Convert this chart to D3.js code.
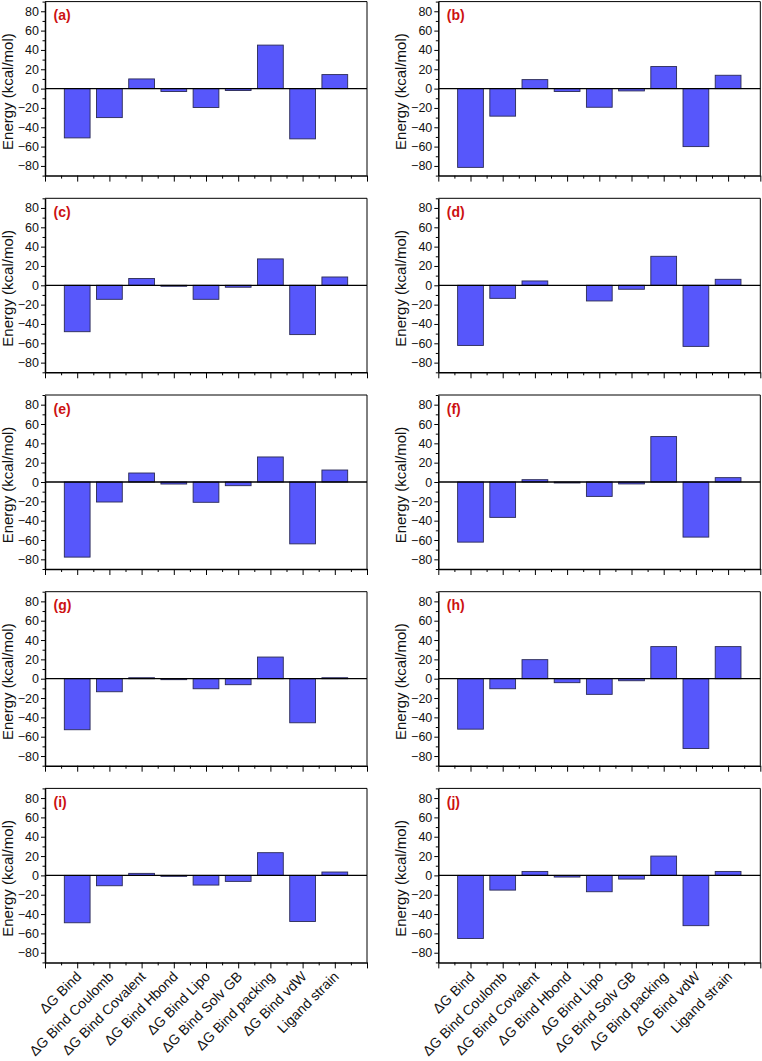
<!DOCTYPE html>
<html><head><meta charset="utf-8">
<script src="https://cdn.jsdelivr.net/npm/d3@7"></script>
<style>
html,body{margin:0;padding:0;background:#fff;}
svg{display:block;font-family:"Liberation Sans",Arial,sans-serif;}
</style></head>
<body>
<svg id="chart" width="762" height="1061"></svg>
<script>
const categories = ["ΔG Bind","ΔG Bind Coulomb","ΔG Bind Covalent","ΔG Bind Hbond","ΔG Bind Lipo","ΔG Bind Solv GB","ΔG Bind packing","ΔG Bind vdW","Ligand strain"];
const panelLabels = ["(a)","(b)","(c)","(d)","(e)","(f)","(g)","(h)","(i)","(j)"];
const valuesA = [-51, -30, 10, -3, -19.5, -2, 45, -52, 14.5];
const valuesB = [-81.5, -28.5, 9.3, -3, -19.3, -2.4, 22.8, -60, 13.8];
const valuesC = [-48, -14.5, 7, -1, -14.5, -2, 27.3, -51, 8.6];
const valuesD = [-62.2, -13.5, 4.5, 0, -16.2, -4.1, 30, -63.2, 6.2];
const valuesE = [-77.7, -20.7, 9.3, -2.1, -21, -3.8, 25.9, -64, 12.4];
const valuesF = [-62.2, -36.6, 2.4, -1, -14.9, -2, 47, -57, 4.5];
const valuesG = [-52.8, -13.5, 1, -1, -10.4, -6.2, 22.4, -45.6, 1];
const valuesH = [-52.2, -10.4, 19.7, -4.1, -16.2, -2.1, 33.2, -72.2, 33.2];
const valuesI = [-49, -10.7, 2.1, -1, -10, -6.2, 23.5, -47.7, 3.5];
const valuesJ = [-65.3, -15.2, 4.1, -1.7, -16.9, -3.8, 20, -52, 4.1];
const allValues = [valuesA, valuesB, valuesC, valuesD, valuesE, valuesF, valuesG, valuesH, valuesI, valuesJ];
const yTicks = [-80, -60, -40, -20, 0, 20, 40, 60, 80];
const yMinorTicks = [-90, -70, -50, -30, -10, 10, 30, 50, 70, 90];
const yTitle = "Energy (kcal/mol)";

const svg = d3.select("#chart");
const colLeft = [45, 438.3];
const plotW = 322, plotH = 174;
const rowTop0 = 1.6, rowPitch = 196.7;

allValues.forEach((vals, idx) => {
  const col = idx % 2, row = Math.floor(idx / 2);
  const left = colLeft[col], top = rowTop0 + row * rowPitch;
  const g = svg.append("g").attr("transform", `translate(${left},${top})`);
  const x = d3.scaleLinear().domain([0, 10]).range([0, plotW]);
  const y = d3.scaleLinear().domain([-90, 90]).range([plotH, 0]);

  // frame top/right
  g.append("line").attr("x1",0).attr("x2",plotW).attr("y1",0).attr("y2",0).attr("stroke","#000").attr("stroke-width",1);
  g.append("line").attr("x1",plotW).attr("x2",plotW).attr("y1",0).attr("y2",plotH).attr("stroke","#000").attr("stroke-width",1);

  // bars
  const bw = 0.8;
  g.selectAll("rect.bar").data(vals).enter().append("rect")
    .attr("class","bar")
    .attr("x", (d,i) => x(i + 1 - bw/2))
    .attr("width", x(bw) - x(0))
    .attr("y", d => y(Math.max(0, d)))
    .attr("height", d => Math.abs(y(d) - y(0)))
    .attr("fill", "#5757fb")
    .attr("stroke", "#2a2a55")
    .attr("stroke-width", 0.9);

  // zero line
  g.append("line").attr("x1",0).attr("x2",plotW).attr("y1",y(0)).attr("y2",y(0)).attr("stroke","#000").attr("stroke-width",1.3);

  // y axis
  const yAx = g.append("g").call(d3.axisLeft(y).tickValues(yTicks).tickSize(4).tickSizeOuter(0).tickPadding(2).tickFormat(d3.format("d")));
  yAx.selectAll("text").attr("font-size", "12.5px").attr("fill", "#111").attr("font-family", '"Liberation Sans",Arial,sans-serif');
  yAx.select(".domain").attr("stroke-width", 1.5);
  const yMin = g.append("g").call(d3.axisLeft(y).tickValues(yMinorTicks).tickSize(2.5).tickSizeOuter(0).tickFormat(""));
  yMin.select(".domain").remove();

  // x axis
  const xAx = g.append("g").attr("transform", `translate(0,${plotH})`)
    .call(d3.axisBottom(x).tickValues(d3.range(0, 11)).tickSize(6).tickSizeOuter(0).tickFormat(""));
  xAx.select(".domain").attr("stroke-width", 1.5);
  const xMin = g.append("g").attr("transform", `translate(0,${plotH})`)
    .call(d3.axisBottom(x).tickValues(d3.range(0.5, 10, 1)).tickSize(3).tickSizeOuter(0).tickFormat(""));
  xMin.select(".domain").remove();

  // y title
  g.append("text")
    .attr("transform", `translate(-32.5,${plotH/2 + 3}) rotate(-90)`)
    .attr("text-anchor", "middle")
    .attr("font-size", "15px")
    .attr("fill", "#111")
    .text(yTitle);

  // panel label
  g.append("text")
    .attr("x", 8.5).attr("y", 18.5)
    .attr("font-size", "14px").attr("font-weight", "bold")
    .attr("fill", "#cc1111")
    .text(panelLabels[idx]);

  // category labels on bottom row
  if (row === 4) {
    g.selectAll("text.cat").data(categories).enter().append("text")
      .attr("class", "cat")
      .attr("transform", (d,i) => `translate(${x(i+1) + 5},${plotH + 15}) rotate(-45)`)
      .attr("text-anchor", "end")
      .attr("font-size", "14px")
      .attr("fill", "#111")
      .text(d => d);
  }
});
</script>
</body></html>
